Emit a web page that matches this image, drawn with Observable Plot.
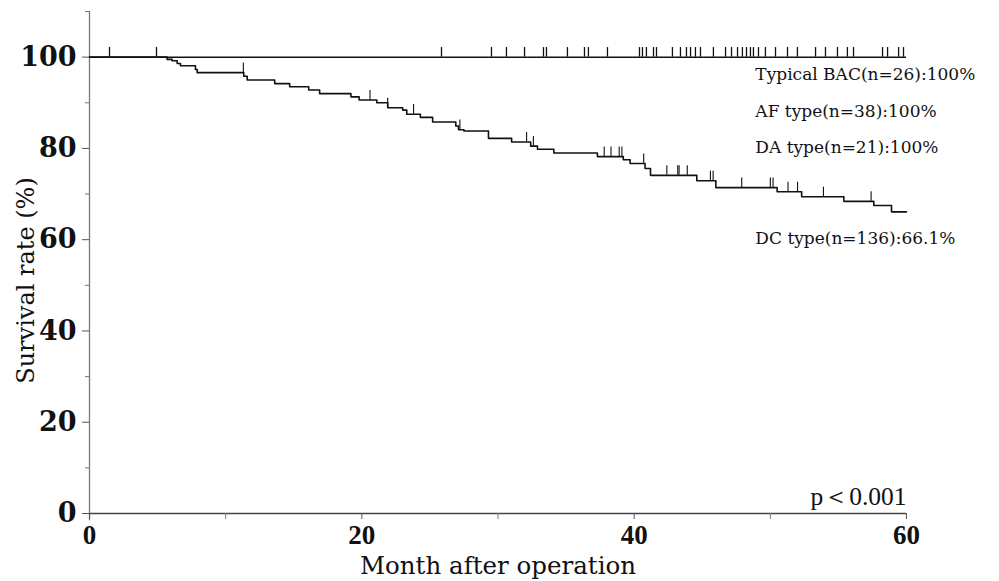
<!DOCTYPE html>
<html>
<head>
<meta charset="utf-8">
<script src="https://cdn.jsdelivr.net/npm/d3@7"></script>
<script src="https://cdn.jsdelivr.net/npm/@observablehq/plot@0.6"></script>
<style>
  html, body { margin: 0; padding: 0; background: #fff; }
  #chart svg { font-family: "DejaVu Serif", serif; }
</style>
</head>
<body>
<div id="chart"></div>
<script>
// ---- data ----
// DC type Kaplan-Meier steps (month, survival % after step)
const dcTimes = [0, 5.7, 6.07, 6.44, 6.68, 7.78, 7.91, 11.33, 11.58, 13.6, 14.7, 16.1, 16.9, 19.2, 19.8, 21.1, 21.9, 23.0, 23.3, 24.3, 25.2, 26.9, 27.1, 27.5, 29.3, 31.0, 32.4, 32.9, 34.1, 37.3, 39.2, 39.7, 40.8, 41.2, 44.6, 46.0, 50.5, 52.3, 55.4, 57.6, 58.9, 60];
const dcSurv  = [100, 99.5, 99.2, 98.6, 98.1, 97.3, 96.6, 95.8, 95.0, 94.2, 93.5, 92.8, 92.0, 91.3, 90.6, 90.0, 88.9, 88.4, 87.5, 86.8, 85.8, 84.9, 84.1, 83.8, 82.2, 81.4, 80.5, 79.8, 79.0, 78.2, 77.5, 76.7, 75.6, 74.1, 72.9, 71.4, 70.5, 69.4, 68.4, 67.5, 66.1, 66.1];
// DC type censored observations (month)
const dcCensor = [11.3, 20.6, 21.9, 23.8, 27.2, 32.1, 32.6, 37.8, 38.3, 38.9, 39.1, 40.7, 42.4, 43.2, 43.3, 43.9, 45.6, 45.8, 47.9, 50.0, 50.2, 51.3, 52.0, 53.9, 57.4];
// Typical BAC / AF / DA: all survive (100%); censored observations (month)
const flatSurvival = 100;
const flatEnd = 60;
const flatCensor = [1.47, 4.92, 25.85, 29.52, 30.62, 31.95, 33.34, 33.56, 35.10, 36.35, 36.64, 38.04, 40.39, 40.61, 40.90, 41.42, 41.64, 42.81, 43.40, 43.84, 44.14, 44.50, 44.87, 45.82, 46.71, 47.15, 47.59, 47.95, 48.25, 48.54, 48.76, 49.13, 49.64, 50.38, 51.26, 51.99, 53.32, 54.05, 54.93, 55.66, 56.11, 58.24, 58.61, 59.42, 59.78];
// group labels and their anchor positions (month, %)
const groupLabels = ["Typical BAC(n=26):100%", "AF type(n=38):100%", "DA type(n=21):100%", "DC type(n=136):66.1%"];
const labelX = [48.9, 48.9, 48.9, 48.9];
const labelY = [96.2, 88.1, 80.2, 60.3];
const pText = "p＜0.001";
const pX = 60, pY = 3.7;
// axes
const xMajor = [0, 20, 40, 60];
const xMinor = [10, 30, 50];
const yMajor = [0, 20, 40, 60, 80, 100];
const yMinor = [10, 30, 50, 70, 90, 110];
const xTitle = "Month after operation";
const yTitle = "Survival rate (%)";

// ---- build tables ----
const dc = dcTimes.map((t, i) => ({t, s: dcSurv[i]}));
const bis = d3.bisector(d => d.t).right;
const survAt = t => dc[Math.max(0, bis(dc, t) - 1)].s;
const tickLen = 2.1; // censor mark height in % units
const dcCens = dcCensor.map(t => ({t, s: survAt(t)}));
const flatCens = flatCensor.map(t => ({t, s: flatSurvival}));
const labels = groupLabels.map((text, i) => ({text, x: labelX[i], y: labelY[i]}));

const chart = Plot.plot({
  width: 999,
  height: 581,
  marginLeft: 89,
  marginRight: 93,
  marginTop: 11,
  marginBottom: 68,
  x: {domain: [0, 60], label: null},
  y: {domain: [0, 110], label: null},
  marks: [
    // axis lines
    Plot.ruleX([0], {y1: -1.6, y2: 110, stroke: "#777", strokeWidth: 1.3}),
    Plot.ruleY([0], {stroke: "#444", strokeWidth: 1.3}),
    // ticks & labels
    Plot.axisY({ticks: yMajor, tickSize: 7, tickPadding: 6, fontSize: 27, fontWeight: "bold", stroke: "#555", color: "#111", label: null}),
    Plot.axisY({ticks: yMinor, tickSize: 4, tickFormat: () => "", stroke: "#777", label: null}),
    Plot.axisX({ticks: xMajor, tickSize: 6, tickPadding: 5, fontSize: 27, fontWeight: "bold", fontFamily: "Liberation Serif", stroke: "#555", color: "#111", label: null}),
    Plot.axisX({ticks: xMinor, tickSize: 6, tickFormat: () => "", stroke: "#777", label: null}),
    Plot.text([yTitle], {frameAnchor: "left", rotate: -90, textAnchor: "middle", dx: -63, dy: 18, fontSize: 24, fill: "#111"}),
    Plot.text([xTitle], {frameAnchor: "bottom", textAnchor: "middle", lineAnchor: "middle", dy: 53, fontSize: 24.5, fill: "#111"}),
    // 100% line (Typical BAC, AF, DA)
    Plot.ruleY([{y: flatSurvival, x1: 0, x2: flatEnd}], {y: "y", x1: "x1", x2: "x2", stroke: "#111", strokeWidth: 1.5}),
    Plot.ruleX(flatCens, {x: "t", y1: "s", y2: d => d.s + tickLen, stroke: "#111", strokeWidth: 1.3}),
    // DC curve
    Plot.line(dc, {x: "t", y: "s", curve: "step-after", stroke: "#111", strokeWidth: 1.6}),
    Plot.ruleX(dcCens, {x: "t", y1: "s", y2: d => d.s + tickLen, stroke: "#111", strokeWidth: 1.1}),
    // annotations
    Plot.text(labels, {x: "x", y: "y", text: "text", textAnchor: "start", fontSize: 17, fill: "#111"}),
    Plot.text([pText], {x: () => pX, y: () => pY, textAnchor: "end", fontSize: 25.5, fontFamily: "Liberation Serif", fill: "#111"})
  ]
});
document.getElementById("chart").appendChild(chart);
</script>
</body>
</html>
